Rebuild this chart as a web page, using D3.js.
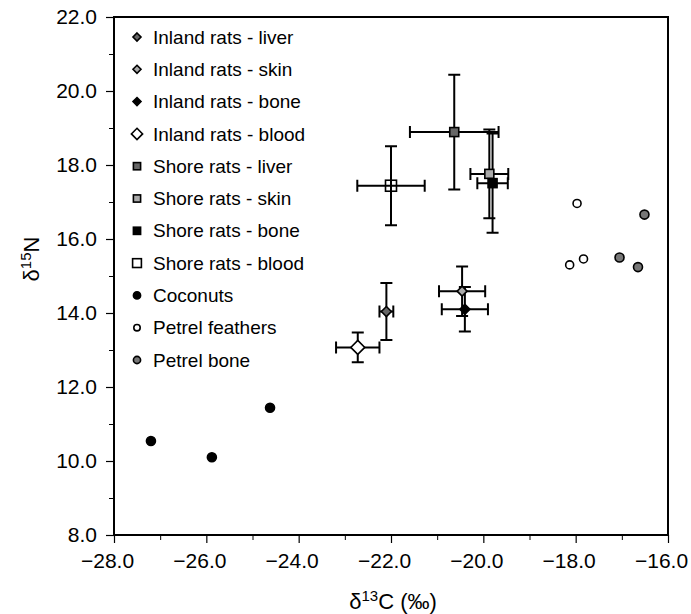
<!DOCTYPE html>
<html>
<head>
<meta charset="utf-8">
<script src="https://cdn.jsdelivr.net/npm/d3@7"></script>
<style>
  body { margin: 0; background: #fff; }
  svg text { font-family: "Liberation Sans", Arial, Helvetica, sans-serif; fill: #000; }
</style>
</head>
<body>
<div id="chart"></div>
<script>
// Rat tissue means with error (x = d13C, y = d15N)
const ratSeries = ["Inland rats - liver", "Inland rats - skin", "Inland rats - bone", "Inland rats - blood",
  "Shore rats - liver", "Shore rats - skin", "Shore rats - bone", "Shore rats - blood"];
const ratC = [-22.1, -20.46, -20.4, -22.72, -20.63, -19.87, -19.8, -22.0];
const ratCErr = [0.15, 0.5, 0.5, 0.47, 0.96, 0.41, 0.33, 0.73];
const ratN = [14.04, 14.59, 14.1, 13.07, 18.89, 17.76, 17.51, 17.44];
const ratNErr = [0.77, 0.67, 0.6, 0.4, 1.55, 1.2, 1.34, 1.07];

// Single samples
const coconutC = [-27.2, -25.88, -24.62];
const coconutN = [10.54, 10.1, 11.44];
const featherC = [-17.97, -18.13, -17.83];
const featherN = [16.96, 15.3, 15.46];
const petrelBoneC = [-16.51, -17.05, -16.65];
const petrelBoneN = [16.66, 15.5, 15.24];

const xTicks = [-28, -26, -24, -22, -20, -18, -16];
const yTicks = [8, 10, 12, 14, 16, 18, 20, 22];

const W = 691, H = 614;
const margin = { top: 17, right: 23, bottom: 79, left: 114 };
const width = W - margin.left - margin.right;
const height = H - margin.top - margin.bottom;

const svg = d3.select("#chart").append("svg")
  .attr("width", W).attr("height", H);
const g = svg.append("g").attr("transform", `translate(${margin.left},${margin.top})`);

const x = d3.scaleLinear().domain([-28, -16]).range([0, width]);
const y = d3.scaleLinear().domain([8, 22]).range([height, 0]);
const fmt = d3.format(".1f");

// minor ticks
g.append("g").attr("transform", `translate(0,${height})`)
  .call(d3.axisBottom(x).tickValues(d3.range(-27, -16, 2)).tickSize(5).tickFormat(""))
  .call(a => a.select(".domain").remove())
  .selectAll("line").attr("stroke-width", 1);
g.append("g")
  .call(d3.axisLeft(y).tickValues(d3.range(9, 22, 2)).tickSize(5).tickFormat(""))
  .call(a => a.select(".domain").remove())
  .selectAll("line").attr("stroke-width", 1);

// major axes
const xAxis = g.append("g").attr("transform", `translate(0,${height})`)
  .call(d3.axisBottom(x).tickValues(xTicks).tickSize(8).tickPadding(10).tickFormat(fmt));
const yAxis = g.append("g")
  .call(d3.axisLeft(y).tickValues(yTicks).tickSize(8).tickPadding(9).tickFormat(fmt));
[xAxis, yAxis].forEach(a => {
  a.select(".domain").remove();
  a.selectAll("line").attr("stroke-width", 1.2);
  a.selectAll("text").style("font-size", "21px");
});
// labels in the original sit a little left of their ticks
xAxis.selectAll("text").attr("dx", -7);

// frame
g.append("rect").attr("width", width).attr("height", height)
  .attr("fill", "none").attr("stroke", "#000").attr("stroke-width", 2);

// error bars
const rats = ratSeries.map((name, i) => ({
  name, c: ratC[i], ce: ratCErr[i], n: ratN[i], ne: ratNErr[i]
}));
const cap = 6;
const bars = g.append("g").attr("stroke", "#000").attr("stroke-width", 2).attr("fill", "none");
rats.forEach(d => {
  const cx = x(d.c), cy = y(d.n);
  const x0 = x(d.c - d.ce), x1 = x(d.c + d.ce);
  const y0 = y(d.n - d.ne), y1 = y(d.n + d.ne);
  bars.append("path").attr("d",
    `M${x0},${cy}H${x1}M${x0},${cy - cap}V${cy + cap}M${x1},${cy - cap}V${cy + cap}` +
    `M${cx},${y0}V${y1}M${cx - cap},${y0}H${cx + cap}M${cx - cap},${y1}H${cx + cap}`);
});

// marker styles per series
const styles = {
  "Inland rats - liver": { shape: "diamond", size: 5, fill: "#666" },
  "Inland rats - skin": { shape: "diamond", size: 5, fill: "#aaa" },
  "Inland rats - bone": { shape: "diamond", size: 5, fill: "#000" },
  "Inland rats - blood": { shape: "diamond", size: 7, fill: "#fff" },
  "Shore rats - liver": { shape: "square", size: 4.5, fill: "#666" },
  "Shore rats - skin": { shape: "square", size: 4.5, fill: "#aaa" },
  "Shore rats - bone": { shape: "square", size: 4.5, fill: "#000" },
  "Shore rats - blood": { shape: "square", size: 5.5, fill: "none" },
  "Coconuts": { shape: "circle", size: 4.5, fill: "#000" },
  "Petrel feathers": { shape: "circle", size: 4, fill: "#fff" },
  "Petrel bone": { shape: "circle", size: 4.5, fill: "#777" }
};

function drawMarker(sel, s, px, py, scale) {
  const r = s.size * (scale || 1);
  let m;
  if (s.shape === "diamond") {
    m = sel.append("path").attr("d", `M${px},${py - r}L${px + r},${py}L${px},${py + r}L${px - r},${py}Z`);
  } else if (s.shape === "square") {
    m = sel.append("rect").attr("x", px - r).attr("y", py - r).attr("width", 2 * r).attr("height", 2 * r);
  } else {
    m = sel.append("circle").attr("cx", px).attr("cy", py).attr("r", r);
  }
  m.attr("fill", s.fill).attr("stroke", "#000").attr("stroke-width", 1.6);
}

const marks = g.append("g");
rats.forEach(d => drawMarker(marks, styles[d.name], x(d.c), y(d.n)));
coconutC.forEach((c, i) => drawMarker(marks, styles["Coconuts"], x(c), y(coconutN[i])));
featherC.forEach((c, i) => drawMarker(marks, styles["Petrel feathers"], x(c), y(featherN[i])));
petrelBoneC.forEach((c, i) => drawMarker(marks, styles["Petrel bone"], x(c), y(petrelBoneN[i])));

// legend
const legendNames = ratSeries.concat(["Coconuts", "Petrel feathers", "Petrel bone"]);
const legend = g.append("g").attr("transform", "translate(23,20)");
legendNames.forEach((name, i) => {
  const ly = i * 32.3;
  drawMarker(legend, styles[name], 0, ly, 0.8);
  legend.append("text").attr("x", 16).attr("y", ly).attr("dy", "0.35em")
    .style("font-size", "19px").text(name);
});

// axis titles
const xt = svg.append("text").attr("x", 393).attr("y", 609)
  .attr("text-anchor", "middle").style("font-size", "22px");
xt.append("tspan").text("δ");
xt.append("tspan").attr("dy", -8).style("font-size", "15px").text("13");
xt.append("tspan").attr("dy", 8).text("C (‰)");

const yt = svg.append("text").attr("transform", "translate(39,259) rotate(-90)")
  .attr("text-anchor", "middle").style("font-size", "22px");
yt.append("tspan").text("δ");
yt.append("tspan").attr("dy", -8).style("font-size", "15px").text("15");
yt.append("tspan").attr("dy", 8).text("N");
</script>
</body>
</html>
